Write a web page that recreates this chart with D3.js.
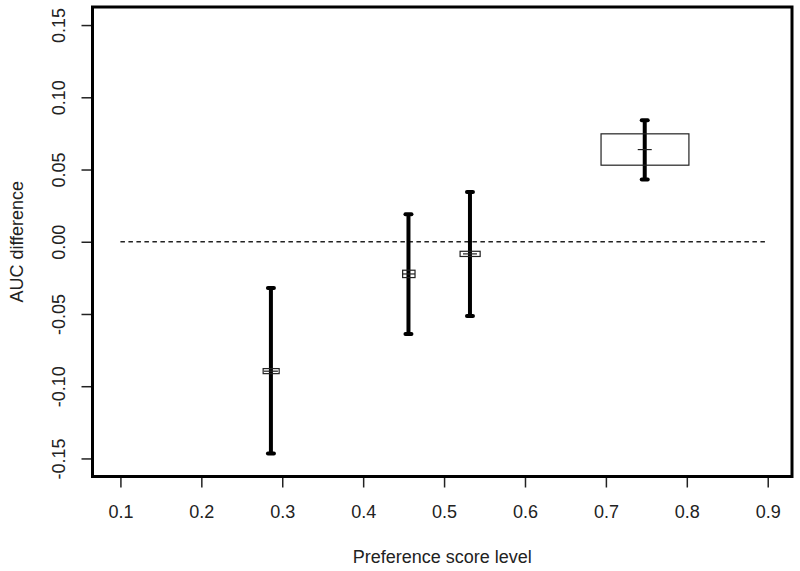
<!DOCTYPE html>
<html>
<head>
<meta charset="utf-8">
<script src="https://cdn.jsdelivr.net/npm/d3@7"></script>
<style>
  body { margin: 0; background: #fff; }
  text { font-family: "Liberation Sans", Arial, sans-serif; fill: #222; }
</style>
</head>
<body>
<div id="chart"></div>
<script>
// values
const levels   = [0.286, 0.456, 0.532, 0.748];        // x of each bar
const estimate = [-0.0896, -0.0223, -0.0084, 0.0638]; // middle line
const ciLow    = [-0.1465, -0.0638, -0.0514, 0.0431];
const ciHigh   = [-0.0320, 0.0190, 0.0345, 0.0841];
const boxXLow  = [0.2764, 0.4488, 0.5198, 0.6940];
const boxXHigh = [0.2962, 0.4641, 0.5446, 0.8026];
const boxYLow  = [-0.0913, -0.0248, -0.0102, 0.0530];
const boxYHigh = [-0.0878, -0.0197, -0.0066, 0.0747];
const refLine  = [0.1, 0.9];                           // dashed zero line span
const xTicks   = [0.1, 0.2, 0.3, 0.4, 0.5, 0.6, 0.7, 0.8, 0.9];
const yTicks   = [-0.15, -0.10, -0.05, 0.00, 0.05, 0.10, 0.15];

const width  = 800;
const height = 571;

// plot frame in pixels
const plotLeft = 92.5, plotRight = 792, plotTop = 7, plotBottom = 476.5;

const svg = d3.select("#chart")
  .append("svg")
  .attr("width", width)
  .attr("height", height);

const x = d3.scaleLinear().domain([0.0655, 0.930]).range([plotLeft, plotRight]);
const y = d3.scaleLinear().domain([-0.1625, 0.1625]).range([plotBottom, plotTop]);

const rows = levels.map(function(d, i) {
  return { x: d, est: estimate[i], lo: ciLow[i], hi: ciHigh[i],
           x0: boxXLow[i], x1: boxXHigh[i], y0: boxYLow[i], y1: boxYHigh[i] };
});

// axes (ticks only, the box is drawn separately)
const xAxis = d3.axisBottom(x).tickValues(xTicks).tickSize(11).tickFormat(d3.format(".1f"));
const gx = svg.append("g").attr("transform", "translate(0," + plotBottom + ")").call(xAxis);
gx.select(".domain").remove();
gx.selectAll("line").attr("stroke", "#222").attr("stroke-width", 1.5);
gx.selectAll("text")
  .attr("y", 41).attr("dy", 0)
  .attr("fill", "#222")
  .style("font-size", "18px")
  .style("font-family", "'Liberation Sans', Arial, sans-serif");

const yAxis = d3.axisLeft(y).tickValues(yTicks).tickSize(11).tickFormat(d3.format(".2f"));
const gy = svg.append("g").attr("transform", "translate(" + plotLeft + ",0)").call(yAxis);
gy.select(".domain").remove();
gy.selectAll("line").attr("stroke", "#222").attr("stroke-width", 1.5);
gy.selectAll("text")
  .attr("x", 0).attr("y", 0).attr("dy", 0)
  .attr("text-anchor", "middle")
  .attr("fill", "#222")
  .attr("transform", "translate(-27.5,0) rotate(-90)")
  .style("font-size", "18px")
  .style("font-family", "'Liberation Sans', Arial, sans-serif")
  .text(function(d) { return d3.format(".2f")(d).replace("\u2212", "-"); });

// dashed reference line at zero
svg.append("line")
  .attr("x1", x(refLine[0])).attr("x2", x(refLine[1]))
  .attr("y1", y(0)).attr("y2", y(0))
  .attr("stroke", "#222")
  .attr("stroke-width", 1.3)
  .attr("stroke-dasharray", "4.5,3.5");

// white box fill first
svg.selectAll(".boxfill")
  .data(rows)
  .enter()
  .append("rect")
  .attr("x", function(d) { return x(d.x0); })
  .attr("y", function(d) { return y(d.y1); })
  .attr("width", function(d) { return x(d.x1) - x(d.x0); })
  .attr("height", function(d) { return y(d.y0) - y(d.y1); })
  .attr("fill", "#fff");

// error bars
svg.selectAll(".bar")
  .data(rows)
  .enter()
  .append("line")
  .attr("x1", function(d) { return x(d.x); })
  .attr("x2", function(d) { return x(d.x); })
  .attr("y1", function(d) { return y(d.lo); })
  .attr("y2", function(d) { return y(d.hi); })
  .attr("stroke", "#000")
  .attr("stroke-width", 4);

// caps at both ends
["lo", "hi"].forEach(function(k) {
  svg.selectAll(".cap-" + k)
    .data(rows)
    .enter()
    .append("line")
    .attr("x1", function(d) { return x(d.x) - 3; })
    .attr("x2", function(d) { return x(d.x) + 3; })
    .attr("y1", function(d) { return y(d[k]); })
    .attr("y2", function(d) { return y(d[k]); })
    .attr("stroke", "#000")
    .attr("stroke-width", 4)
    .attr("stroke-linecap", "round");
});

// box outlines
svg.selectAll(".box")
  .data(rows)
  .enter()
  .append("rect")
  .attr("x", function(d) { return x(d.x0); })
  .attr("y", function(d) { return y(d.y1); })
  .attr("width", function(d) { return x(d.x1) - x(d.x0); })
  .attr("height", function(d) { return y(d.y0) - y(d.y1); })
  .attr("fill", "none")
  .attr("stroke", "#222")
  .attr("stroke-width", 1.2);

// estimate line
svg.selectAll(".est")
  .data(rows)
  .enter()
  .append("line")
  .attr("x1", function(d) { return Math.max(x(d.x0), x(d.x) - 7); })
  .attr("x2", function(d) { return Math.min(x(d.x1), x(d.x) + 7); })
  .attr("y1", function(d) { return y(d.est); })
  .attr("y2", function(d) { return y(d.est); })
  .attr("stroke", "#222")
  .attr("stroke-width", 1.2);

// frame
svg.append("rect")
  .attr("x", plotLeft).attr("y", plotTop)
  .attr("width", plotRight - plotLeft).attr("height", plotBottom - plotTop)
  .attr("fill", "none")
  .attr("stroke", "#000")
  .attr("stroke-width", 3);

// axis titles
svg.append("text")
  .attr("x", (plotLeft + plotRight) / 2)
  .attr("y", 563)
  .attr("text-anchor", "middle")
  .style("font-size", "18px")
  .text("Preference score level");

svg.append("text")
  .attr("transform", "translate(23," + (plotTop + plotBottom) / 2 + ") rotate(-90)")
  .attr("text-anchor", "middle")
  .style("font-size", "18px")
  .text("AUC difference");
</script>
</body>
</html>
